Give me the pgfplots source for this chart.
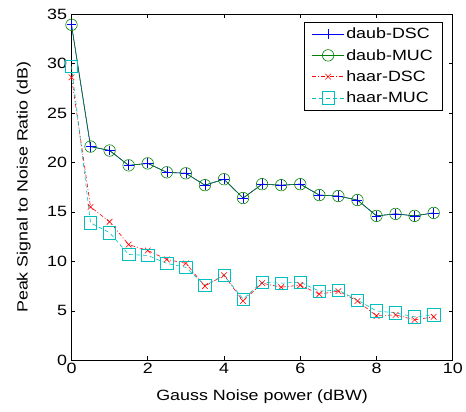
\documentclass[border=0pt]{standalone}
\usepackage{fontspec}
\setmainfont{Liberation Sans}[FakeStretch=1.2]
\usepackage{pgfplots}
\pgfplotsset{compat=1.18}
\definecolor{mblue}{rgb}{0,0,1}
\definecolor{mgreen}{rgb}{0,0.5,0}
\definecolor{mred}{rgb}{1,0,0}
\definecolor{mcyan}{rgb}{0,0.75,0.75}
\begin{document}
\begin{tikzpicture}
\begin{axis}[
    width=384pt, height=349pt, scale only axis,
    xmin=0, xmax=10, ymin=0, ymax=35,
    xtick={0,2,...,10}, ytick={0,5,...,35},
    tick align=inside, tick pos=both,
    major tick length=4pt,
    tick style={black, line width=0.6pt},
    axis line style={line width=0.7pt},
    /pgf/number format/assume math mode=true,
    tick label style={font=\fontsize{15}{17}\selectfont},
    xticklabel style={yshift=1pt},
    yticklabel style={xshift=-1pt},
    label style={font=\fontsize{15}{17}\selectfont},
    xlabel={Gauss Noise power (dBW)},
    ylabel={Peak Signal to Noise Ratio (dB)},
    xlabel style={at={(axis description cs:0.5,-0.106)}, anchor=center},
    ylabel style={at={(axis description cs:-0.125,0.5)}, anchor=center},
    legend style={at={(0.974,0.977)}, anchor=north east, draw=black,
        font=\fontsize{15}{17}\selectfont, cells={anchor=west},
        row sep=5pt, inner xsep=8pt, inner ysep=4pt},
    legend image code/.code={
        \draw[mark repeat=2,mark phase=2] plot coordinates {(0pt,0pt) (16pt,0pt) (32pt,0pt)};},
]
\addplot[mblue, line width=0.6pt, mark=+, mark size=5pt, mark options={solid}]
coordinates {(0,33.9)(0.5,21.6)(1,21.2)(1.5,19.7)(2,19.9)(2.5,19.0)(3,18.9)(3.5,17.7)(4,18.3)(4.5,16.4)(5,17.8)(5.5,17.7)(6,17.8)(6.5,16.7)(7,16.6)(7.5,16.2)(8,14.6)(8.5,14.8)(9,14.6)(9.5,14.9)};
\addplot[mgreen, line width=0.6pt, mark=o, mark size=5.8pt, mark options={solid}]
coordinates {(0,33.9)(0.5,21.6)(1,21.2)(1.5,19.7)(2,19.9)(2.5,19.0)(3,18.9)(3.5,17.7)(4,18.3)(4.5,16.4)(5,17.8)(5.5,17.7)(6,17.8)(6.5,16.7)(7,16.6)(7.5,16.2)(8,14.6)(8.5,14.8)(9,14.6)(9.5,14.9)};
\addplot[mred, line width=0.6pt, dash pattern=on 4pt off 2pt on 1pt off 2pt, mark=x, mark size=4pt, mark options={solid}]
coordinates {(0,28.6)(0.5,15.5)(1,14.0)(1.5,11.7)(2,11.1)(2.5,10.2)(3,9.8)(3.5,7.5)(4,8.6)(4.5,6.0)(5,7.8)(5.5,7.4)(6,7.6)(6.5,6.7)(7,7.0)(7.5,6.0)(8,4.5)(8.5,4.6)(9,4.1)(9.5,4.4)};
\addplot[mcyan, line width=0.6pt, dash pattern=on 4pt off 3pt, mark=square, mark size=6.2pt, mark options={solid}]
coordinates {(0,29.7)(0.5,13.9)(1,12.9)(1.5,10.7)(2,10.6)(2.5,9.8)(3,9.4)(3.5,7.6)(4,8.6)(4.5,6.2)(5,7.9)(5.5,7.8)(6,7.9)(6.5,7.0)(7,7.1)(7.5,6.1)(8,5.0)(8.5,4.8)(9,4.4)(9.5,4.6)};
\legend{daub-DSC, daub-MUC, haar-DSC, haar-MUC}
\end{axis}
% pad the page to the reference margins
\path (current axis.south west) ++(-72pt,-51pt);
\path (current axis.north east) ++(10pt,14pt);
\end{tikzpicture}
\end{document}
